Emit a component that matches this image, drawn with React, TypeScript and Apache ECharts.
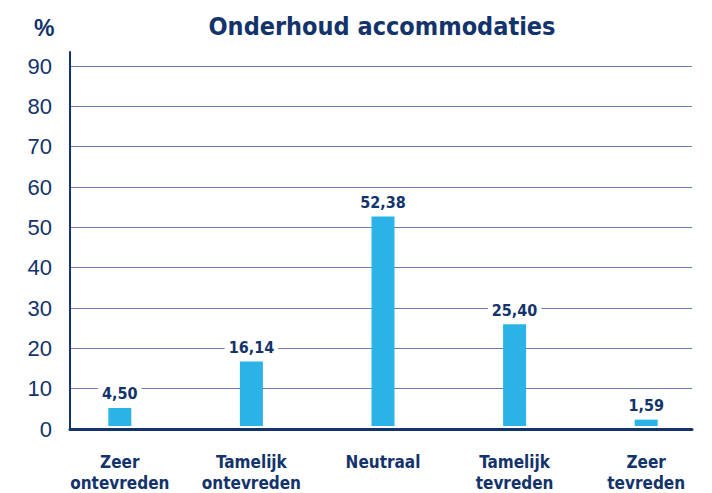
import React, { useEffect, useRef } from "react";
import * as echarts from "echarts";

const categories = ["Zeer\nontevreden", "Tamelijk\nontevreden", "Neutraal", "Tamelijk\ntevreden", "Zeer\ntevreden"];
const values = [4.5, 16.14, 52.38, 25.4, 1.59];
const yTicks = [0, 10, 20, 30, 40, 50, 60, 70, 80, 90];

const NAVY = "#13336b";
const BAR = "#2bb3e8";
const GRID = "#6a7cae";
const NARROW = "'Liberation Sans Narrow', 'DejaVu Sans Condensed', 'Arial Narrow', sans-serif";
const SANS = "'Liberation Sans', Arial, sans-serif";

export default function App() {
  const ref = useRef<HTMLDivElement>(null);
  useEffect(() => {
    if (!ref.current) return;
    const chart = echarts.init(ref.current, null, { renderer: "svg" });
    const yMax = 93.5;
    chart.setOption({
      animation: false,
      backgroundColor: "#ffffff",
      title: [
        {
          text: "Onderhoud accommodaties",
          left: 377,
          top: 9,
          textAlign: "center",
          textStyle: { fontFamily: NARROW, fontWeight: "bold", fontSize: 25, color: NAVY },
        },
        {
          text: "%",
          left: 29,
          top: 11,
          textStyle: { fontFamily: SANS, fontWeight: "bold", fontSize: 23, color: NAVY },
        },
      ],
      grid: [
        { left: 70, right: 20, top: 51.9, bottom: 64, containLabel: false },
        { left: 54, right: 0, top: 51.9, bottom: 64, containLabel: false },
      ],
      xAxis: [
        {
          type: "value",
          gridIndex: 0,
          min: 0,
          max: 1,
          axisLine: { show: true, lineStyle: { color: NAVY, width: 3 } },
          axisTick: { show: false },
          axisLabel: { show: false },
          splitLine: { show: false },
        },
        {
          type: "category",
          gridIndex: 1,
          data: categories,
          axisLine: { show: false },
          axisTick: { show: false },
          axisLabel: {
            margin: 25,
            fontFamily: NARROW,
            fontWeight: "bold",
            fontSize: 17,
            lineHeight: 21,
            color: NAVY,
            interval: 0,
          },
        },
      ],
      yAxis: [
        {
          type: "value",
          gridIndex: 0,
          min: 0,
          max: yMax,
          interval: 10,
          axisLine: { show: true, lineStyle: { color: NAVY, width: 2 } },
          axisTick: { show: false },
          axisLabel: {
            margin: 18,
            fontFamily: SANS,
            fontSize: 22,
            color: NAVY,
            showMaxLabel: false,
            formatter: (v: number) => (yTicks.includes(v) ? String(v) : ""),
          },
          splitLine: {
            show: true,
            showMinLine: false,
            showMaxLine: false,
            lineStyle: { color: GRID, width: 1 },
          },
        },
        {
          type: "value",
          gridIndex: 1,
          min: 0,
          max: yMax,
          show: false,
          splitLine: { show: false },
        },
      ],
      series: [
        {
          type: "bar",
          xAxisIndex: 1,
          yAxisIndex: 1,
          data: values,
          barWidth: 23,
          itemStyle: { color: BAR },
          label: {
            show: true,
            position: "top",
            distance: 4,
            formatter: (p: any) => p.value.toFixed(2).replace(".", ","),
            fontFamily: NARROW,
            fontWeight: "bold",
            fontSize: 16,
            color: NAVY,
            backgroundColor: "#ffffff",
            padding: [2, 4, 2, 4],
          },
        },
      ],
    });
    return () => chart.dispose();
  }, []);
  return <div ref={ref} style={{ width: 712, height: 493, position: "absolute", left: 0, top: 0 }} />;
}
